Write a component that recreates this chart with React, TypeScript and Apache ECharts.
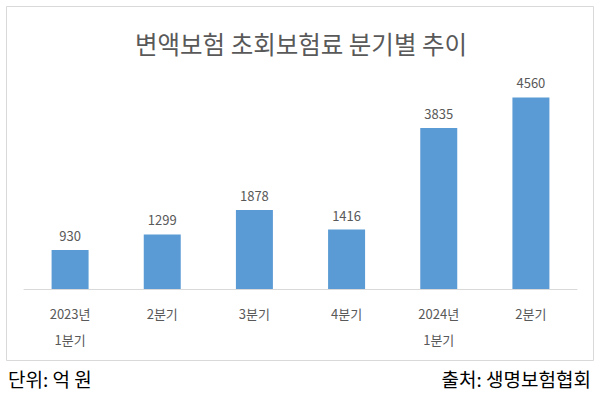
import React, { useEffect, useRef } from "react";
import * as echarts from "echarts";

const categories = ["2023년\n1분기", "2분기", "3분기", "4분기", "2024년\n1분기", "2분기"];
const values = [930, 1299, 1878, 1416, 3835, 4560];
const titleText = "변액보험 초회보험료 분기별 추이";
const unitText = "단위: 억 원";
const sourceText = "출처: 생명보험협회";

const FONT = "'Noto Sans CJK KR', 'Noto Sans', sans-serif";

export default function App() {
  const ref = useRef<HTMLDivElement>(null);
  useEffect(() => {
    if (!ref.current) return;
    const chart = echarts.init(ref.current, null, { renderer: "svg" });
    chart.setOption({
      animation: false,
      backgroundColor: "#ffffff",
      textStyle: { fontFamily: FONT },
      grid: { left: 24, width: 553, top: 79, height: 210 },
      xAxis: {
        type: "category",
        data: categories,
        axisLine: { lineStyle: { color: "#d9d9d9", width: 1 } },
        axisTick: { show: false },
        axisLabel: {
          color: "#595959",
          fontSize: 13,
          lineHeight: 26,
          margin: 11,
          fontFamily: FONT,
          interval: 0,
        },
      },
      yAxis: {
        type: "value",
        min: 0,
        max: 5000,
        show: false,
        splitLine: { show: false },
      },
      series: [
        {
          type: "bar",
          data: values,
          barWidth: 37,
          itemStyle: { color: "#5b9bd5" },
          label: {
            show: true,
            position: "top",
            distance: 8,
            color: "#595959",
            fontSize: 13,
            fontFamily: FONT,
          },
        },
      ],
      graphic: [
        {
          type: "rect",
          shape: { x: 6.5, y: 6.5, width: 587, height: 354 },
          style: { fill: "none", stroke: "#d9d9d9", lineWidth: 1 },
          z: -1,
        },
        {
          type: "text",
          x: 301,
          y: 43,
          style: {
            text: titleText,
            fill: "#595959",
            fontSize: 24.5,
            fontFamily: FONT,
            align: "center",
            verticalAlign: "middle",
          },
        },
        {
          type: "text",
          x: 8,
          y: 378,
          style: {
            text: unitText,
            fill: "#000000",
            fontSize: 19,
            fontFamily: FONT,
            align: "left",
            verticalAlign: "middle",
          },
        },
        {
          type: "text",
          x: 591,
          y: 378,
          style: {
            text: sourceText,
            fill: "#000000",
            fontSize: 19,
            fontFamily: FONT,
            align: "right",
            verticalAlign: "middle",
          },
        },
      ],
    });
    return () => chart.dispose();
  }, []);
  return (
    <div
      ref={ref}
      style={{ position: "fixed", left: 0, top: 0, width: 600, height: 399 }}
    />
  );
}
